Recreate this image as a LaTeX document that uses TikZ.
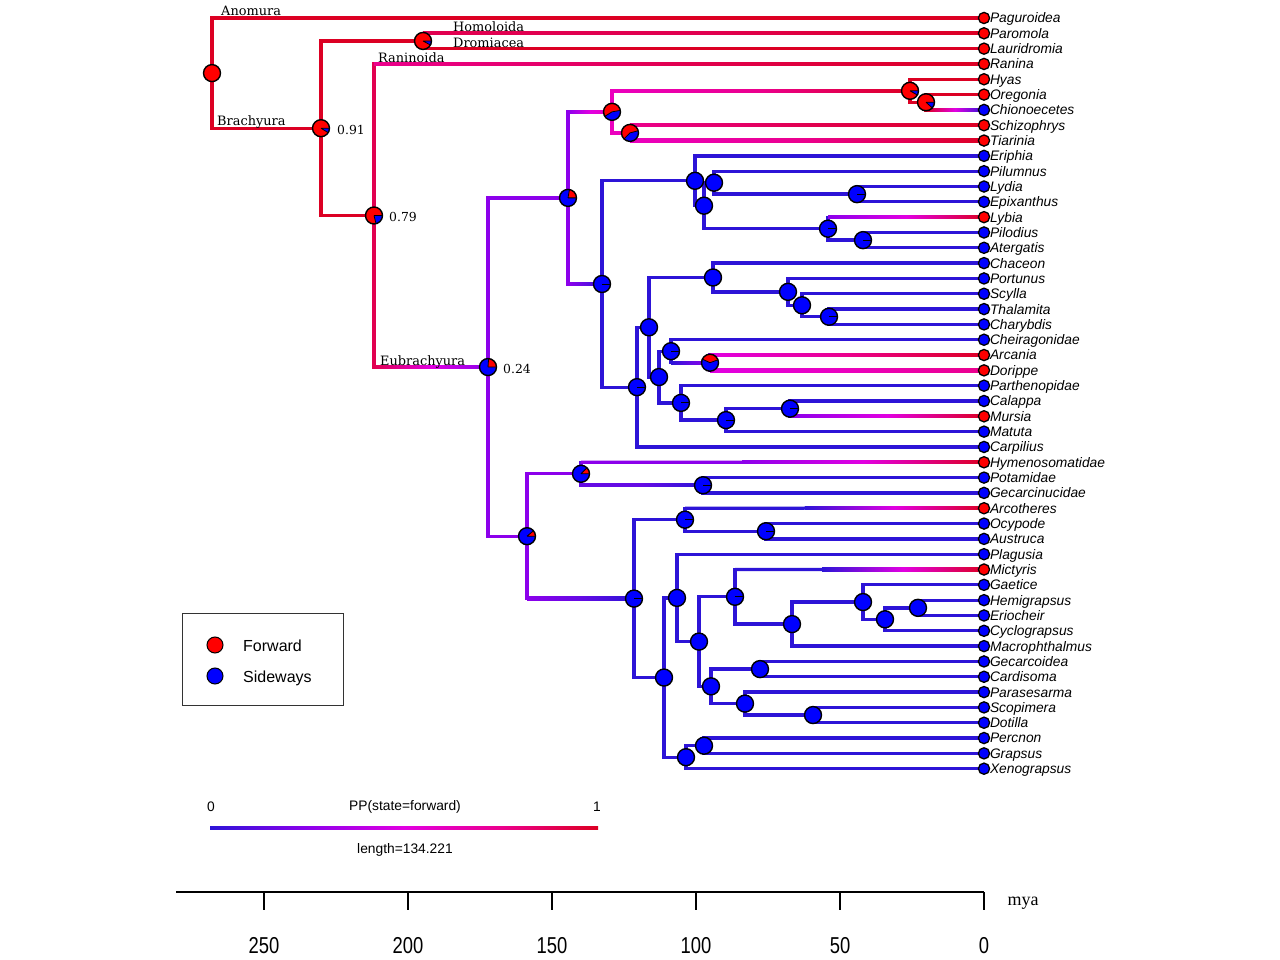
\documentclass[tikz,border=0pt]{standalone}
\usepackage{fontspec}
\usepackage{graphicx}
\setmainfont{Liberation Sans}
\newfontfamily\serf{DejaVu Serif}
\newfontfamily\timesf{Liberation Serif}
\usetikzlibrary{calc}
\definecolor{cblue}{RGB}{45,20,215}
\definecolor{cviol}{RGB}{140,0,235}
\definecolor{cvb}{RGB}{100,10,228}
\definecolor{cmag}{RGB}{225,0,225}
\definecolor{cmagp}{RGB}{235,0,190}
\definecolor{cpink}{RGB}{235,0,140}
\definecolor{ccrim}{RGB}{225,0,80}
\definecolor{cred}{RGB}{220,0,35}
\definecolor{pred}{RGB}{255,0,0}
\definecolor{pblue}{RGB}{0,0,255}
\tikzset{
 br/.style={line width=3.3pt},
 vbr/.style={line width=3.3pt, line cap=rect},
 tiplab/.style={anchor=west, inner sep=0pt, xshift=5.8pt, text height=9.9pt, text depth=0pt, font=\itshape\fontsize{13.8}{14}\selectfont},
 cladelab/.style={anchor=base west, inner sep=0pt, font=\serf\fontsize{12.9}{13}\selectfont},
 pplab/.style={anchor=west, inner sep=0pt, font=\serf\fontsize{12.4}{13}\selectfont},
 smalltxt/.style={inner sep=0pt, font=\fontsize{13.8}{14}\selectfont},
}
\newcommand{\brH}[3]{\draw[br,#3] (#1 |- #2) -- (#2);}
\newcommand{\brV}[4]{\draw[vbr,#4] (#1 |- #2) -- (#1 |- #3);}
\newcommand{\brG}[6]{%
  \draw[br,#4] (#1 |- #2) -- ($(#1 |- #2)!#3!(#2)$);
  \shade[left color=#4, right color=#6, middle color=#5] ($(#1 |- #2)!#3!(#2) + (0,1.65)$) rectangle ($(#2)+(0,-1.65)$);}
\newcommand{\pienode}[3]{%
  \fill[pblue] (#1) circle[radius=8.5pt];
  \fill[pred] (#1) -- ++(#2:8.5pt) arc[start angle=#2, end angle=#3, radius=8.5pt] -- cycle;
  \draw[line width=0.8pt] (#1) -- ++(#2:8.5pt) (#1) -- ++(#3:8.5pt);
  \draw[line width=1.4pt] (#1) circle[radius=8.5pt];}
\newcommand{\pieblue}[1]{\fill[pblue,draw=black,line width=1.4pt] (#1) circle[radius=8.5pt];}
\newcommand{\piebl}[1]{\pieblue{#1}\draw[line width=0.9pt] (#1) -- ++(0:8.5pt);}
\newcommand{\piered}[1]{\fill[pred,draw=black,line width=1.4pt] (#1) circle[radius=8.5pt];}
\begin{document}
\begin{tikzpicture}[x=1pt,y=-1pt]
\useasboundingbox[fill=white] (0,0) rectangle (1280,960);
% tips
\foreach \i in {0,...,49} \coordinate (t\i) at (984,{18+15.32*\i});
% internal nodes
\coordinate (nOC) at (926,102.25);
\coordinate (nHy) at (910,90.8);
\coordinate (nST) at (630,132.9);
\coordinate (nMaj) at (612,111.85);
\coordinate (nLE) at (857,194.15);
\coordinate (nPil) at (714,182.7);
\coordinate (nPA) at (863,240.15);
\coordinate (nLyb) at (828,228.7);
\coordinate (nX1) at (704,205.7);
\coordinate (nEri) at (695,180.8);
\coordinate (nTC) at (829,316.75);
\coordinate (nSc) at (802,305.3);
\coordinate (nPo) at (788,291.85);
\coordinate (nCh) at (713,277.5);
\coordinate (nAD) at (710,362.7);
\coordinate (nChe) at (671,351.2);
\coordinate (nCM) at (790,408.65);
\coordinate (nMat) at (726,420.1);
\coordinate (nPar) at (681,402.9);
\coordinate (nX2) at (659,377.05);
\coordinate (nX3) at (649,327.3);
\coordinate (nCar) at (637,387.15);
\coordinate (nX4) at (602,284);
\coordinate (nX5) at (568,197.9);
\coordinate (nPG) at (703,485.25);
\coordinate (nHym) at (581,473.8);
\coordinate (nOA) at (766,531.25);
\coordinate (nArc) at (685,519.7);
\coordinate (nHE) at (918,607.85);
\coordinate (nCy) at (885,619.3);
\coordinate (nGa) at (863,602.05);
\coordinate (nMac) at (792,624.1);
\coordinate (nMic) at (735,596.8);
\coordinate (nGC) at (760,669.1);
\coordinate (nSD) at (813,715.05);
\coordinate (nPs) at (745,703.6);
\coordinate (nX6) at (711,686.35);
\coordinate (nX7) at (699,641.6);
\coordinate (nPla) at (677,597.9);
\coordinate (nPG2) at (704,745.7);
\coordinate (nXe) at (686,757.2);
\coordinate (nX8) at (664,677.55);
\coordinate (nX9) at (634,598.6);
\coordinate (nX10) at (527,536.2);
\coordinate (nEub) at (488,367.05);
\coordinate (nRan) at (374,215.5);
\coordinate (nPD) at (423,40.95);
\coordinate (nBra) at (321,128.2);
\coordinate (root) at (212,73.1);
% ---- branches ----
\brV{root}{t0}{nBra}{cred} \brH{root}{t0}{cred} \brH{root}{nBra}{cred}
\brV{nBra}{nPD}{nRan}{cred} \brH{nBra}{nPD}{cred} \brH{nBra}{nRan}{cred}
\brV{nPD}{t1}{t2}{cred} \brG{nPD}{t1}{0}{ccrim}{ccrim}{cred} \brH{nPD}{t2}{cred}
\brV{nRan}{t3}{nEub}{ccrim} \brG{nRan}{t3}{0}{cpink}{ccrim}{cred} \brG{nRan}{nEub}{0}{ccrim}{cmag}{cviol}
\brV{nEub}{nX5}{nX10}{cviol} \brH{nEub}{nX5}{cviol} \brH{nEub}{nX10}{cviol}
\brV{nX5}{nMaj}{nX4}{cviol} \brG{nX5}{nMaj}{0}{cviol}{cmag}{cmagp} \brG{nX5}{nX4}{0}{cviol}{cvb}{cblue}
\brV{nMaj}{nHy}{nST}{cmagp} \brG{nMaj}{nHy}{0}{cmagp}{cpink}{cred} \brH{nMaj}{nST}{cmagp}
\brV{nHy}{t4}{nOC}{cred} \brH{nHy}{t4}{cred} \brH{nHy}{nOC}{cred}
\brV{nOC}{t5}{t6}{cred} \brH{nOC}{t5}{cred} \brG{nOC}{t6}{0}{cred}{cmag}{cblue}
\brV{nST}{t7}{t8}{cpink} \brG{nST}{t7}{0}{cpink}{ccrim}{cred} \brG{nST}{t8}{0}{cmagp}{cpink}{cred}
\brV{nX4}{nEri}{nCar}{cblue} \brH{nX4}{nEri}{cblue} \brH{nX4}{nCar}{cblue}
\brV{nEri}{t9}{nX1}{cblue} \brH{nEri}{t9}{cblue} \brH{nEri}{nX1}{cblue}
\brV{nX1}{nPil}{nLyb}{cblue} \brH{nX1}{nPil}{cblue} \brH{nX1}{nLyb}{cblue}
\brV{nPil}{t10}{nLE}{cblue} \brH{nPil}{t10}{cblue} \brH{nPil}{nLE}{cblue}
\brV{nLE}{t11}{t12}{cblue} \brH{nLE}{t11}{cblue} \brH{nLE}{t12}{cblue}
\brV{nLyb}{t13}{nPA}{cblue} \brG{nLyb}{t13}{0}{cviol}{cmag}{cred} \brH{nLyb}{nPA}{cblue}
\brV{nPA}{t14}{t15}{cblue} \brH{nPA}{t14}{cblue} \brH{nPA}{t15}{cblue}
\brV{nCar}{nX3}{t28}{cblue} \brH{nCar}{nX3}{cblue} \brH{nCar}{t28}{cblue}
\brV{nX3}{nCh}{nX2}{cblue} \brH{nX3}{nCh}{cblue} \brH{nX3}{nX2}{cblue}
\brV{nCh}{t16}{nPo}{cblue} \brH{nCh}{t16}{cblue} \brH{nCh}{nPo}{cblue}
\brV{nPo}{t17}{nSc}{cblue} \brH{nPo}{t17}{cblue} \brH{nPo}{nSc}{cblue}
\brV{nSc}{t18}{nTC}{cblue} \brH{nSc}{t18}{cblue} \brH{nSc}{nTC}{cblue}
\brV{nTC}{t19}{t20}{cblue} \brH{nTC}{t19}{cblue} \brH{nTC}{t20}{cblue}
\brV{nX2}{nChe}{nPar}{cblue} \brH{nX2}{nChe}{cblue} \brH{nX2}{nPar}{cblue}
\brV{nChe}{t21}{nAD}{cblue} \brH{nChe}{t21}{cblue} \brG{nChe}{nAD}{0}{cblue}{cvb}{cviol}
\brV{nAD}{t22}{t23}{cviol} \brG{nAD}{t22}{0}{cmag}{cpink}{cred} \brG{nAD}{t23}{0}{cmag}{cmagp}{cpink}
\brV{nPar}{t24}{nMat}{cblue} \brH{nPar}{t24}{cblue} \brH{nPar}{nMat}{cblue}
\brV{nMat}{nCM}{t27}{cblue} \brH{nMat}{nCM}{cblue} \brH{nMat}{t27}{cblue}
\brV{nCM}{t25}{t26}{cblue} \brH{nCM}{t25}{cblue} \brG{nCM}{t26}{0}{cviol}{cmag}{cred}
\brV{nX10}{nHym}{nX9}{cviol} \brH{nX10}{nHym}{cviol} \brG{nX10}{nX9}{0}{cviol}{cvb}{cblue}
\brV{nHym}{t29}{nPG}{cvb} \brG{nHym}{t29}{0.4}{cviol}{cmag}{cred} \brG{nHym}{nPG}{0}{cvb}{cvb}{cblue}
\brV{nPG}{t30}{t31}{cblue} \brH{nPG}{t30}{cblue} \brH{nPG}{t31}{cblue}
\brV{nX9}{nArc}{nX8}{cblue} \brH{nX9}{nArc}{cblue} \brH{nX9}{nX8}{cblue}
\brV{nArc}{t32}{nOA}{cblue} \brG{nArc}{t32}{0.4}{cblue}{cmag}{cred} \brH{nArc}{nOA}{cblue}
\brV{nOA}{t33}{t34}{cblue} \brH{nOA}{t33}{cblue} \brH{nOA}{t34}{cblue}
\brV{nX8}{nPla}{nXe}{cblue} \brH{nX8}{nPla}{cblue} \brH{nX8}{nXe}{cblue}
\brV{nPla}{t35}{nX7}{cblue} \brH{nPla}{t35}{cblue} \brH{nPla}{nX7}{cblue}
\brV{nX7}{nMic}{nX6}{cblue} \brH{nX7}{nMic}{cblue} \brH{nX7}{nX6}{cblue}
\brV{nMic}{t36}{nMac}{cblue} \brG{nMic}{t36}{0.35}{cblue}{cmag}{cred} \brH{nMic}{nMac}{cblue}
\brV{nMac}{nGa}{t41}{cblue} \brH{nMac}{nGa}{cblue} \brH{nMac}{t41}{cblue}
\brV{nGa}{t37}{nCy}{cblue} \brH{nGa}{t37}{cblue} \brH{nGa}{nCy}{cblue}
\brV{nCy}{nHE}{t40}{cblue} \brH{nCy}{nHE}{cblue} \brH{nCy}{t40}{cblue}
\brV{nHE}{t38}{t39}{cblue} \brH{nHE}{t38}{cblue} \brH{nHE}{t39}{cblue}
\brV{nX6}{nGC}{nPs}{cblue} \brH{nX6}{nGC}{cblue} \brH{nX6}{nPs}{cblue}
\brV{nGC}{t42}{t43}{cblue} \brH{nGC}{t42}{cblue} \brH{nGC}{t43}{cblue}
\brV{nPs}{t44}{nSD}{cblue} \brH{nPs}{t44}{cblue} \brH{nPs}{nSD}{cblue}
\brV{nSD}{t45}{t46}{cblue} \brH{nSD}{t45}{cblue} \brH{nSD}{t46}{cblue}
\brV{nXe}{nPG2}{t49}{cblue} \brH{nXe}{nPG2}{cblue} \brH{nXe}{t49}{cblue}
\brV{nPG2}{t47}{t48}{cblue} \brH{nPG2}{t47}{cblue} \brH{nPG2}{t48}{cblue}
% ---- pies ----
\piered{root}
\pienode{nPD}{0}{331}
\pienode{nBra}{0}{328}
\pienode{nRan}{0}{284}
\pienode{nEub}{0}{86}
\pienode{nX5}{0}{80}
\pienode{nMaj}{10}{212}
\pienode{nST}{15}{225}
\pienode{nHy}{0}{330}
\pienode{nOC}{0}{318}
\pienode{nAD}{20}{155}
\pienode{nHym}{0}{45}
\pienode{nX10}{0}{40}
\foreach \n in {nLE,nLyb,nPA,nX4,nChe,nPar,nMat,nCar,nCM,nTC,nPG,nArc,nOA,nX9,nMic} {\piebl{\n}}
\foreach \n in {nEri,nPil,nX1,nCh,nX3,nX2,nPo,nSc,nPla,nX7,nMac,nGa,nHE,nCy,nX8,nX6,nGC,nPs,nSD,nPG2,nXe} {\pieblue{\n}}
% ---- tips ----
\foreach \i/\c/\n in {0/pred/Paguroidea,1/pred/Paromola,2/pred/Lauridromia,3/pred/Ranina,4/pred/Hyas,5/pred/Oregonia,6/pblue/Chionoecetes,7/pred/Schizophrys,8/pred/Tiarinia,9/pblue/Eriphia,10/pblue/Pilumnus,11/pblue/Lydia,12/pblue/Epixanthus,13/pred/Lybia,14/pblue/Pilodius,15/pblue/Atergatis,16/pblue/Chaceon,17/pblue/Portunus,18/pblue/Scylla,19/pblue/Thalamita,20/pblue/Charybdis,21/pblue/Cheiragonidae,22/pred/Arcania,23/pred/Dorippe,24/pblue/Parthenopidae,25/pblue/Calappa,26/pred/Mursia,27/pblue/Matuta,28/pblue/Carpilius,29/pred/Hymenosomatidae,30/pblue/Potamidae,31/pblue/Gecarcinucidae,32/pred/Arcotheres,33/pblue/Ocypode,34/pblue/Austruca,35/pblue/Plagusia,36/pred/Mictyris,37/pblue/Gaetice,38/pblue/Hemigrapsus,39/pblue/Eriocheir,40/pblue/Cyclograpsus,41/pblue/Macrophthalmus,42/pblue/Gecarcoidea,43/pblue/Cardisoma,44/pblue/Parasesarma,45/pblue/Scopimera,46/pblue/Dotilla,47/pblue/Percnon,48/pblue/Grapsus,49/pblue/Xenograpsus}
{\fill[\c,draw=black,line width=1.3pt] (t\i) circle[radius=5.6pt];
 \node[tiplab] (L\i) at (t\i) {\n};}
% ---- clade labels ----
\node[cladelab] (lAno) at (221,16) {Anomura};
\node[cladelab] (lBra) at (217,125.5) {Brachyura};
\node[cladelab] (lHom) at (453,32) {Homoloida};
\node[cladelab] (lDro) at (453,47.5) {Dromiacea};
\node[cladelab] (lRan) at (378,62.5) {Raninoida};
\node[cladelab] (lEub) at (380,365) {Eubrachyura};
\node[pplab] (p91) at (337,129.5) {0.91};
\node[pplab] (p79) at (389,216.5) {0.79};
\node[pplab] (p24) at (503,368.5) {0.24};
% ---- legend ----
\node[draw=black!80, line width=0.9pt, minimum width=161pt, minimum height=92pt, inner sep=0pt] (legend) at (262.5,659) {};
\coordinate (kf) at (215,645);
\coordinate (ks) at (215,676);
\fill[pred,draw=black,line width=1pt] (kf) circle[radius=8pt];
\fill[pblue,draw=black,line width=1pt] (ks) circle[radius=8pt];
\node[anchor=west, inner sep=0pt, text height=11.5pt, text depth=0pt, font=\fontsize{16}{16}\selectfont] (lf) at (243,646) {Forward};
\node[anchor=west, inner sep=0pt, text height=11.5pt, text depth=0pt, font=\fontsize{16}{16}\selectfont] (ls) at (243,677) {Sideways};
% ---- colour bar ----
\shade[left color=cblue, right color=cviol] (210,826.4) rectangle (307.5,829.6);
\shade[left color=cviol, right color=cmag] (307,826.4) rectangle (404.5,829.6);
\shade[left color=cmag, right color=cpink] (404,826.4) rectangle (501.5,829.6);
\shade[left color=cpink, right color=cred] (501,826.4) rectangle (598,829.6);
\node[smalltxt] (b0) at (211,807) {0};
\node[smalltxt] (bt) at (405,807) {PP(state=forward)};
\node[smalltxt] (b1) at (597,807) {1};
\node[smalltxt] (bl) at (405,850) {length=134.221};
% ---- time axis ----
\draw[line width=1.3pt] (176,892) -- (984,892);
\foreach \v in {0,50,100,150,200,250} {
  \draw[line width=1.1pt] ({984-2.88*\v},892) -- ({984-2.88*\v},910);
  \node[inner sep=0pt, font=\fontsize{23}{23}\selectfont] (ax\v) at ({984-2.88*\v},946) {\scalebox{0.8}[1]{\v}};
}
\node[inner sep=0pt, font=\timesf\fontsize{18}{18}\selectfont] (mya) at (1023,903) {mya};
\end{tikzpicture}
\end{document}
